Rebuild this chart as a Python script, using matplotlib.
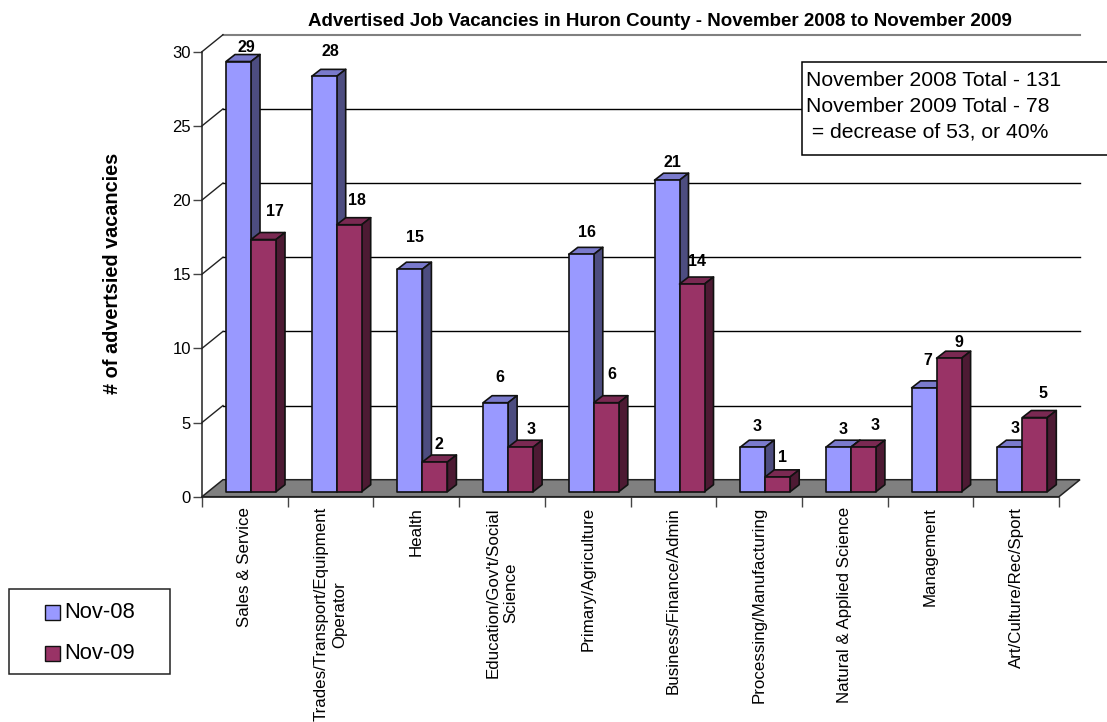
import matplotlib
matplotlib.use("Agg")
import matplotlib.pyplot as plt
from matplotlib.patches import Polygon, Rectangle

plt.rcParams['font.family'] = ['Liberation Sans', 'DejaVu Sans']

# DATA
categories = ["Sales & Service", "Trades/Transport/Equipment\nOperator", "Health",
              "Education/Gov't/Social\nScience", "Primary/Agriculture",
              "Business/Finance/Admin", "Processing/Manufacturing",
              "Natural & Applied Science", "Management", "Art/Culture/Rec/Sport"]
nov_08 = [29, 28, 15, 6, 16, 21, 3, 3, 7, 3]
nov_09 = [17, 18, 2, 3, 6, 14, 1, 3, 9, 5]
series_names = ["Nov-08", "Nov-09"]
y_ticks = [0, 5, 10, 15, 20, 25, 30]
title = "Advertised Job Vacancies in Huron County - November 2008 to November 2009"
y_label = "# of advertsied vacancies"
note = "November 2008 Total - 131\nNovember 2009 Total - 78\n = decrease of 53, or 40%"

# LAYOUT (pixels of the 1107x722 picture)
W, H = 1107, 722
LEFT, RIGHT, BOTTOM, TOP = 202, 1059, 496.7, 51.7
PX_X = (RIGHT - LEFT) / 10
PX_Y = (BOTTOM - TOP) / 30
WALL_DX, WALL_DY = 21 / PX_X, 17 / PX_Y
BAR_DX, BAR_DY = 9 / PX_X, 7 / PX_Y
BAR_START, BAR_W, BAR_LIFT = 24 / PX_X, 25 / PX_X, 5 / PX_Y

# hand placed data labels, same as the original chart (pixels right, pixels up)
nudge_08 = [(7.5, 13.6), (6, 24.5), (5, 32), (4.5, 24.7), (6, 22),
            (5, 18), (4, 21), (4.5, 18), (4, 27), (5, 19)]
nudge_09 = [(11.5, 27.6), (8, 24), (4, 18), (10, 18), (6, 28),
            (5, 23), (5, 19), (11.5, 22), (10, 16), (8, 23.6)]

# front, side, top
blue = ("#9999FF", "#4D4D80", "#7A7ACC")
maroon = ("#993366", "#4D1A33", "#7A2952")


def draw_bar(ax, x, value, colours):
    y0 = BAR_LIFT
    y1 = BAR_LIFT + value
    x1 = x + BAR_W
    edge = dict(edgecolor="#111111", linewidth=1.2, joinstyle="round", clip_on=False, zorder=4)
    ax.add_patch(Polygon([(x, y1), (x + BAR_DX, y1 + BAR_DY), (x1 + BAR_DX, y1 + BAR_DY), (x1, y1)],
                         facecolor=colours[2], **edge))
    ax.add_patch(Polygon([(x1, y0), (x1 + BAR_DX, y0 + BAR_DY), (x1 + BAR_DX, y1 + BAR_DY), (x1, y1)],
                         facecolor=colours[1], **edge))
    ax.add_patch(Rectangle((x, y0), BAR_W, value, facecolor=colours[0], **edge))


fig = plt.figure(figsize=(W / 100, H / 100), dpi=100)
ax = fig.add_axes([LEFT / W, 1 - BOTTOM / H, (RIGHT - LEFT) / W, (BOTTOM - TOP) / H])
ax.set_xlim(0, 10)
ax.set_ylim(0, 30)
ax.patch.set_visible(False)
for side in ["top", "right"]:
    ax.spines[side].set_visible(False)
for side in ["left", "bottom"]:
    ax.spines[side].set_color("#222222")
    ax.spines[side].set_linewidth(1.1)
    ax.spines[side].set_zorder(3)

# back wall gridlines and the short diagonals running to the axis
for v in y_ticks[1:]:
    colour = "#808080" if v == 30 else "black"
    lw = 1.5 if v == 30 else 1.0
    ax.plot([WALL_DX, 10 + WALL_DX], [v + WALL_DY, v + WALL_DY], color=colour, lw=lw, clip_on=False, zorder=1)
    ax.plot([0, WALL_DX], [v, v + WALL_DY], color="#222222", lw=1.0, clip_on=False, zorder=1)

# floor
ax.add_patch(Polygon([(0, 0), (WALL_DX, WALL_DY), (10 + WALL_DX, WALL_DY), (10, 0)],
                     facecolor="#808080", edgecolor="#222222", linewidth=1.1, clip_on=False, zorder=2))

for i in range(len(categories)):
    draw_bar(ax, i + BAR_START, nov_08[i], blue)
    draw_bar(ax, i + BAR_START + BAR_W, nov_09[i], maroon)
    for j, (value, nudge) in enumerate([(nov_08[i], nudge_08[i]), (nov_09[i], nudge_09[i])]):
        ax.annotate(str(value), (i + BAR_START + BAR_W * (j + 0.5), BAR_LIFT + value),
                    xytext=nudge, textcoords="offset pixels", ha="center", va="center",
                    fontsize=11.5, fontweight="bold", annotation_clip=False, zorder=6)

# axis ticks
ax.set_yticks(y_ticks)
ax.tick_params(axis="y", length=6.5, width=1.0, color="#444444", labelsize=12, pad=1.5)
ax.set_xticks(range(11))
ax.set_xticklabels([])
ax.tick_params(axis="x", which="major", length=7.2, width=1.0, color="#444444")
ax.set_xticks([i + 0.5 for i in range(10)], minor=True)
ax.set_xticklabels(categories, minor=True, rotation=90, ha="center", va="top", fontsize=12.2, linespacing=1.28)
ax.tick_params(axis="x", which="minor", length=0, pad=7.5)

fig.text(659.5 / W, 1 - 21 / H, title, ha="center", va="center", fontsize=13.5, fontweight="bold")
fig.text(113 / W, 1 - 273 / H, y_label, rotation=90, ha="center", va="center", fontsize=14.3, fontweight="bold")

# totals box, runs off the right edge like the original
fig.add_artist(Rectangle((801.5 / W, 1 - 155 / H), 320 / W, 92.5 / H, transform=fig.transFigure,
                         facecolor="white", edgecolor="black", linewidth=1.1, zorder=7))
fig.text(806 / W, 1 - 106.5 / H, note, ha="left", va="center", fontsize=15.2, linespacing=1.45, zorder=8)

# legend
fig.add_artist(Rectangle((8.5 / W, 1 - 674 / H), 161 / W, 85 / H, transform=fig.transFigure,
                         facecolor="white", edgecolor="#222222", linewidth=1.1))
for name, colour, y in zip(series_names, [blue[0], maroon[0]], [612.5, 653.5]):
    fig.add_artist(Rectangle((45 / W, 1 - (y + 7.5) / H), 15 / W, 15 / H, transform=fig.transFigure,
                             facecolor=colour, edgecolor="#111111", linewidth=1.0))
    fig.text(64 / W, 1 - y / H, name, ha="left", va="center", fontsize=15.8)

fig.savefig("out.png", dpi=100)
